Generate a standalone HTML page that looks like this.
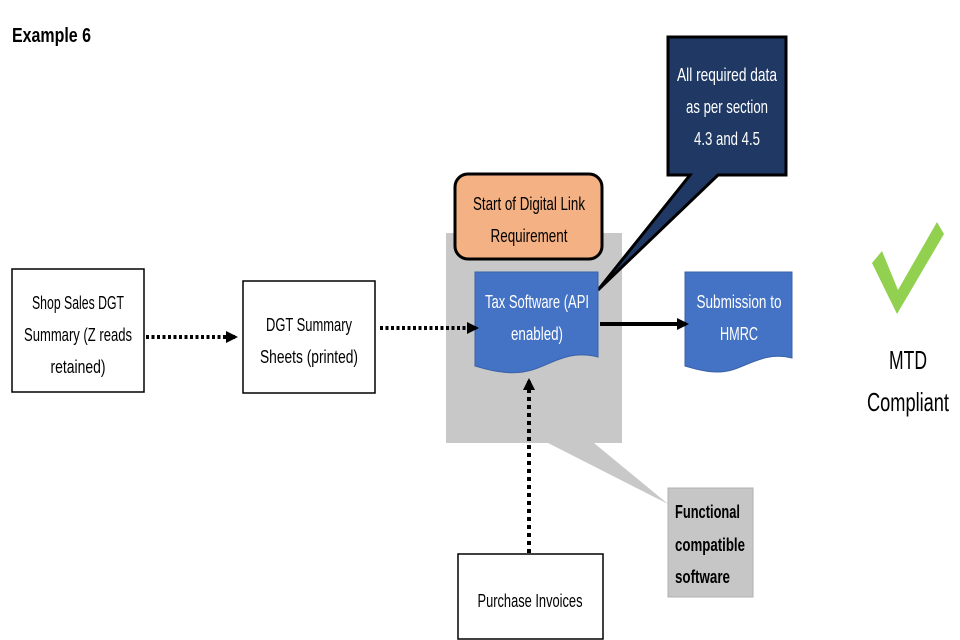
<!DOCTYPE html>
<html><head><meta charset="utf-8"><style>html,body{margin:0;padding:0;background:#fff}svg{display:block}text{font-family:"Liberation Sans",sans-serif}</style></head>
<body>
<svg width="960" height="640" viewBox="0 0 960 640" xmlns="http://www.w3.org/2000/svg">
<defs>
<marker id="ah" markerWidth="12" markerHeight="12" refX="9" refY="6" orient="auto" markerUnits="userSpaceOnUse" viewBox="0 0 12 12"><path d="M0,0 L12,6 L0,12 z" fill="#000"/></marker>
</defs>
<text x="12" y="42" font-size="20" font-weight="bold" textLength="79" lengthAdjust="spacingAndGlyphs">Example 6</text>

<polygon points="446,233 622,233 622,443 594,443 668,504 548,443 446,443" fill="#c8c8c8"/>
<rect x="668" y="488" width="85" height="109" fill="#c6c6c6" stroke="#b0b0b0"/>
<g font-size="18" font-weight="bold">
<text x="675" y="518" textLength="65" lengthAdjust="spacingAndGlyphs">Functional</text>
<text x="675" y="551" textLength="70" lengthAdjust="spacingAndGlyphs">compatible</text>
<text x="675" y="583" textLength="55" lengthAdjust="spacingAndGlyphs">software</text>
</g>

<polygon points="668,37 786,37 786,175 718,175 598,290 690,175 668,175" fill="#1f3864" stroke="#000" stroke-width="3"/>
<g font-size="18" fill="#fff" text-anchor="middle">
<text x="727" y="81" textLength="100" lengthAdjust="spacingAndGlyphs">All required data</text>
<text x="727" y="113" textLength="82" lengthAdjust="spacingAndGlyphs">as per section</text>
<text x="727" y="145" textLength="66" lengthAdjust="spacingAndGlyphs">4.3 and 4.5</text>
</g>

<rect x="455" y="174" width="147" height="85" rx="13" fill="#f4b183" stroke="#000" stroke-width="3"/>
<g font-size="18" text-anchor="middle">
<text x="529" y="210" textLength="112" lengthAdjust="spacingAndGlyphs">Start of Digital Link</text>
<text x="529" y="242" textLength="77" lengthAdjust="spacingAndGlyphs">Requirement</text>
</g>

<path d="M475,272 L598,272 L598,357 C570,350 555,362 535,369 C515,376 495,372 475,366 Z" fill="#4472c4" stroke="#3a62a8"/>
<g font-size="18" fill="#fff" text-anchor="middle">
<text x="537" y="308" textLength="104" lengthAdjust="spacingAndGlyphs">Tax Software (API</text>
<text x="537" y="340" textLength="52" lengthAdjust="spacingAndGlyphs">enabled)</text>
</g>
<path d="M685,272 L792,272 L792,358 C768,352 752,363 735,369 C718,375 702,371 685,366 Z" fill="#4472c4" stroke="#3a62a8"/>
<g font-size="18" fill="#fff" text-anchor="middle">
<text x="739" y="308" textLength="85" lengthAdjust="spacingAndGlyphs">Submission to</text>
<text x="739" y="340" textLength="38" lengthAdjust="spacingAndGlyphs">HMRC</text>
</g>

<rect x="12" y="269" width="132" height="123" fill="#fff" stroke="#000" stroke-width="1.5"/>
<g font-size="18" text-anchor="middle">
<text x="78" y="309" textLength="92" lengthAdjust="spacingAndGlyphs">Shop Sales DGT</text>
<text x="78" y="341" textLength="108" lengthAdjust="spacingAndGlyphs">Summary (Z reads</text>
<text x="78" y="373" textLength="55" lengthAdjust="spacingAndGlyphs">retained)</text>
</g>
<rect x="243" y="281" width="132" height="112" fill="#fff" stroke="#000" stroke-width="1.5"/>
<g font-size="18" text-anchor="middle">
<text x="309" y="331" textLength="86" lengthAdjust="spacingAndGlyphs">DGT Summary</text>
<text x="309" y="363" textLength="98" lengthAdjust="spacingAndGlyphs">Sheets (printed)</text>
</g>
<rect x="458" y="554" width="145" height="85" fill="#fff" stroke="#000" stroke-width="1.5"/>
<text x="530" y="607" font-size="18" text-anchor="middle" textLength="105" lengthAdjust="spacingAndGlyphs">Purchase Invoices</text>

<line x1="146" y1="337" x2="235" y2="337" stroke="#000" stroke-width="4" stroke-dasharray="3,2.5" marker-end="url(#ah)"/>
<line x1="380" y1="328" x2="476" y2="328" stroke="#000" stroke-width="4" stroke-dasharray="3,2.5" marker-end="url(#ah)"/>
<line x1="600" y1="324" x2="686" y2="324" stroke="#000" stroke-width="4" marker-end="url(#ah)"/>
<line x1="529" y1="553" x2="529" y2="381" stroke="#000" stroke-width="4" stroke-dasharray="4,4" marker-end="url(#ah)"/>

<polygon points="872,263 897,314 944,234 937,222 898,290 882,251" fill="#92d050"/>
<g font-size="26" text-anchor="middle">
<text x="908" y="369" textLength="38" lengthAdjust="spacingAndGlyphs">MTD</text>
<text x="908" y="411" textLength="82" lengthAdjust="spacingAndGlyphs">Compliant</text>
</g>
</svg>
</body></html>
